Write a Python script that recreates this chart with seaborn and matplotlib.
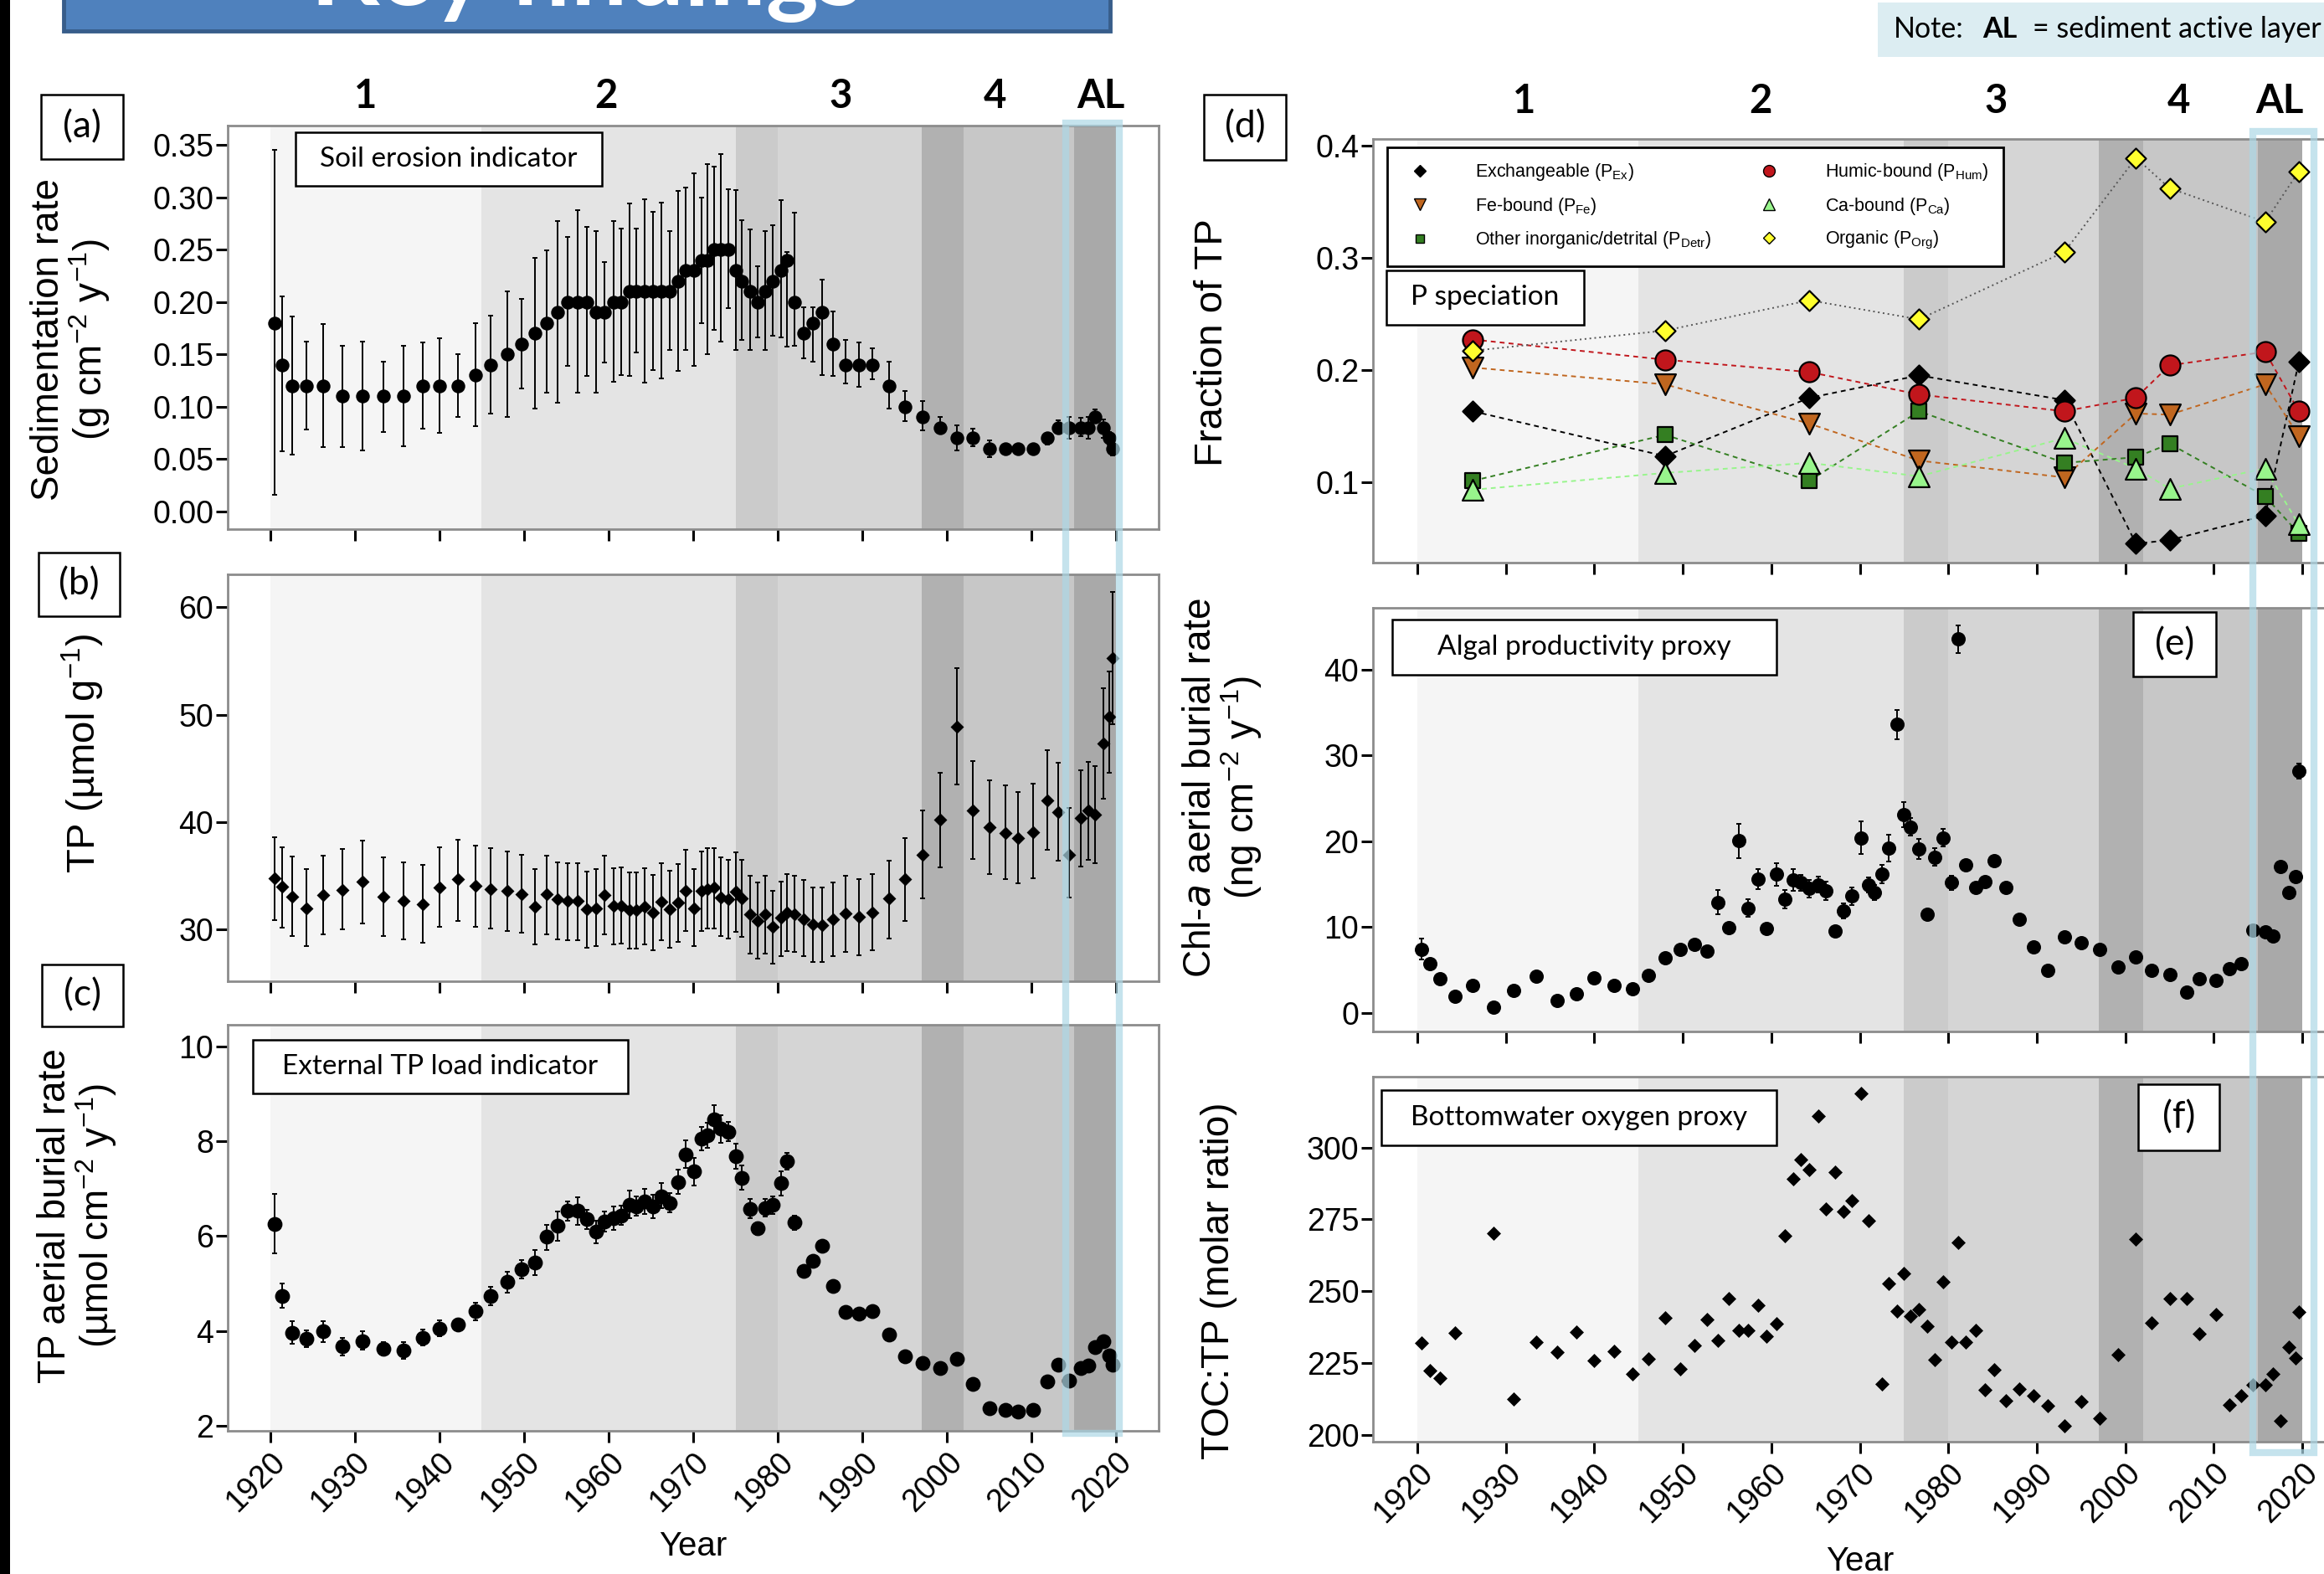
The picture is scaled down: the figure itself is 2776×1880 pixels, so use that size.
"""
Sediment core summary figure: six stacked panels (a-f) with shaded phase bands.
"""

import matplotlib
matplotlib.use("Agg")
import matplotlib.pyplot as plt
import matplotlib.transforms as mtransforms
from matplotlib.patches import Rectangle
from matplotlib.lines import Line2D
from matplotlib.ticker import FormatStrFormatter
import pandas as pd
import seaborn as sns

# ── Data ──────────────────────────────────────────────────────────────────
year = [1920.5, 1921.4, 1922.6, 1924.3, 1926.3, 1928.6, 1930.9, 1933.4, 1935.8, 1938.0,
        1940.0, 1942.2, 1944.3, 1946.1, 1948.0, 1949.7, 1951.3, 1952.7, 1954.0, 1955.2,
        1956.3, 1957.4, 1958.5, 1959.5, 1960.6, 1961.5, 1962.5, 1963.3, 1964.3, 1965.3,
        1966.2, 1967.2, 1968.2, 1969.1, 1970.1, 1971.0, 1971.7, 1972.5, 1973.3, 1974.2,
        1975.0, 1975.7, 1976.7, 1977.6, 1978.5, 1979.4, 1980.4, 1981.1, 1982.0, 1983.1,
        1984.1, 1985.2, 1986.5, 1988.0, 1989.6, 1991.2, 1993.1, 1995.0, 1997.1, 1999.2,
        2001.2, 2003.0, 2005.0, 2006.9, 2008.4, 2010.2, 2011.8, 2013.1, 2014.4, 2015.8,
        2016.7, 2017.5, 2018.5, 2019.2, 2019.6]

# (a) sedimentation rate, g cm-2 y-1
sed_rate = [0.18, 0.14, 0.12, 0.12, 0.12, 0.11, 0.11, 0.11, 0.11, 0.12,
            0.12, 0.12, 0.13, 0.14, 0.15, 0.16, 0.17, 0.18, 0.19, 0.20,
            0.20, 0.20, 0.19, 0.19, 0.20, 0.20, 0.21, 0.21, 0.21, 0.21,
            0.21, 0.21, 0.22, 0.23, 0.23, 0.24, 0.24, 0.25, 0.25, 0.25,
            0.23, 0.22, 0.21, 0.20, 0.21, 0.22, 0.23, 0.24, 0.20, 0.17,
            0.18, 0.19, 0.16, 0.14, 0.14, 0.14, 0.12, 0.10, 0.09, 0.08,
            0.07, 0.07, 0.06, 0.06, 0.06, 0.06, 0.07, 0.08, 0.08, 0.08,
            0.08, 0.09, 0.08, 0.07, 0.06]
sed_hi = [0.345, 0.205, 0.186, 0.162, 0.179, 0.158, 0.162, 0.143, 0.158, 0.161,
          0.165, 0.150, 0.180, 0.187, 0.210, 0.203, 0.242, 0.249, 0.277, 0.262,
          0.288, 0.272, 0.268, 0.238, 0.277, 0.270, 0.294, 0.270, 0.298, 0.286,
          0.295, 0.268, 0.306, 0.309, 0.323, 0.300, 0.332, 0.329, 0.341, 0.308,
          0.307, 0.278, 0.269, 0.234, 0.268, 0.273, 0.297, 0.248, 0.285, 0.195,
          0.195, 0.221, 0.191, 0.164, 0.161, 0.156, 0.143, 0.115, 0.105, 0.090,
          0.082, 0.079, 0.068, 0.064, 0.064, 0.064, 0.075, 0.087, 0.090, 0.089,
          0.090, 0.097, 0.088, 0.076, 0.066]
sed_lo = [0.016, 0.057, 0.054, 0.078, 0.061, 0.061, 0.058, 0.076, 0.062, 0.079,
          0.075, 0.090, 0.081, 0.093, 0.090, 0.117, 0.098, 0.113, 0.104, 0.139,
          0.113, 0.129, 0.113, 0.142, 0.124, 0.130, 0.129, 0.152, 0.123, 0.135,
          0.127, 0.154, 0.134, 0.154, 0.139, 0.180, 0.150, 0.173, 0.162, 0.194,
          0.154, 0.164, 0.154, 0.166, 0.154, 0.168, 0.166, 0.157, 0.158, 0.146,
          0.143, 0.130, 0.129, 0.122, 0.119, 0.126, 0.098, 0.086, 0.077, 0.074,
          0.058, 0.062, 0.052, 0.056, 0.056, 0.056, 0.064, 0.074, 0.069, 0.072,
          0.069, 0.085, 0.070, 0.064, 0.053]

# (b) TP concentration, umol g-1
tp = [34.8, 34.0, 33.1, 32.0, 33.2, 33.7, 34.5, 33.1, 32.7, 32.4,
      33.9, 34.7, 34.1, 33.8, 33.6, 33.3, 32.1, 33.3, 32.8, 32.7,
      32.7, 31.9, 32.0, 33.2, 32.2, 32.2, 31.8, 31.8, 32.1, 31.6,
      32.6, 31.9, 32.5, 33.6, 32.0, 33.6, 33.8, 33.9, 33.0, 32.8,
      33.5, 32.9, 31.4, 30.8, 31.4, 30.3, 31.1, 31.6, 31.4, 31.0,
      30.5, 30.4, 31.0, 31.5, 31.2, 31.6, 32.9, 34.7, 37.0, 40.2,
      48.9, 41.1, 39.5, 39.0, 38.5, 39.1, 42.0, 40.9, 37.0, 40.4,
      41.1, 40.7, 47.3, 49.8, 55.3]
tp_hi = [38.6, 37.7, 36.8, 35.6, 36.9, 37.5, 38.3, 36.7, 36.3, 36.0,
         37.7, 38.4, 37.8, 37.6, 37.3, 37.0, 35.6, 36.9, 36.3, 36.2,
         36.2, 35.4, 35.6, 36.9, 35.7, 35.8, 35.3, 35.3, 35.7, 35.1,
         36.2, 35.5, 36.1, 37.4, 35.6, 37.3, 37.6, 37.6, 36.7, 36.5,
         37.2, 36.5, 35.0, 34.4, 35.0, 33.6, 34.5, 35.2, 35.0, 34.6,
         33.9, 33.9, 34.4, 35.0, 34.7, 35.2, 36.4, 38.5, 41.1, 44.6,
         54.3, 45.7, 43.9, 43.4, 42.8, 43.6, 46.7, 45.5, 41.3, 44.8,
         45.6, 45.2, 52.5, 54.0, 61.4]
tp_lo = [30.9, 30.2, 29.4, 28.5, 29.6, 30.0, 30.6, 29.4, 29.1, 28.8,
         30.3, 30.8, 30.3, 30.1, 29.9, 29.7, 28.6, 29.6, 29.1, 29.0,
         29.0, 28.3, 28.5, 29.6, 28.6, 28.7, 28.2, 28.2, 28.6, 28.1,
         29.0, 28.3, 28.9, 29.9, 28.5, 29.9, 30.1, 30.1, 29.4, 29.2,
         29.8, 29.3, 27.8, 27.3, 27.8, 26.8, 27.5, 28.0, 27.9, 27.5,
         27.0, 27.0, 27.5, 27.9, 27.6, 28.1, 29.2, 30.8, 32.9, 35.8,
         43.5, 36.6, 35.2, 34.7, 34.3, 34.8, 37.4, 36.4, 33.0, 35.9,
         36.5, 36.2, 42.2, 44.6, 49.1]

# (c) TP burial rate, umol cm-2 y-1
tp_burial = [6.25, 4.74, 3.96, 3.84, 3.99, 3.68, 3.78, 3.62, 3.58, 3.86,
             4.05, 4.14, 4.41, 4.73, 5.03, 5.30, 5.44, 5.98, 6.21, 6.53,
             6.53, 6.35, 6.10, 6.30, 6.37, 6.43, 6.66, 6.62, 6.72, 6.62,
             6.84, 6.70, 7.13, 7.72, 7.36, 8.05, 8.12, 8.46, 8.26, 8.20,
             7.68, 7.23, 6.57, 6.16, 6.59, 6.66, 7.11, 7.58, 6.29, 5.26,
             5.47, 5.79, 4.95, 4.40, 4.36, 4.42, 3.93, 3.47, 3.33, 3.21,
             3.41, 2.88, 2.37, 2.34, 2.30, 2.34, 2.94, 3.29, 2.96, 3.21,
             3.27, 3.66, 3.78, 3.49, 3.29]
tpb_hi = [6.88, 5.00, 4.21, 4.01, 4.21, 3.86, 3.99, 3.76, 3.77, 4.03,
          4.23, 4.26, 4.60, 4.92, 5.24, 5.49, 5.71, 6.23, 6.52, 6.72,
          6.82, 6.56, 6.33, 6.51, 6.62, 6.64, 6.95, 6.83, 6.99, 6.87,
          7.11, 6.90, 7.40, 8.01, 7.65, 8.30, 8.39, 8.75, 8.54, 8.40,
          7.95, 7.48, 6.78, 6.29, 6.78, 6.84, 7.36, 7.75, 6.43, 5.31,
          5.52, 5.84, 5.00, 4.45, 4.41, 4.47, 3.98, 3.52, 3.38, 3.26,
          3.46, 2.93, 2.42, 2.39, 2.35, 2.39, 2.99, 3.34, 3.01, 3.26,
          3.32, 3.71, 3.83, 3.54, 3.34]
tpb_lo = [5.63, 4.48, 3.72, 3.66, 3.77, 3.49, 3.60, 3.48, 3.41, 3.70,
          3.89, 4.02, 4.23, 4.54, 4.81, 5.11, 5.18, 5.71, 5.90, 6.33,
          6.23, 6.14, 5.84, 6.10, 6.13, 6.23, 6.38, 6.42, 6.46, 6.38,
          6.58, 6.49, 6.88, 7.43, 7.07, 7.80, 7.85, 8.18, 7.97, 7.99,
          7.42, 6.98, 6.37, 6.02, 6.41, 6.47, 6.86, 7.40, 6.13, 5.21,
          5.42, 5.74, 4.90, 4.35, 4.31, 4.37, 3.88, 3.42, 3.28, 3.16,
          3.36, 2.83, 2.32, 2.29, 2.25, 2.29, 2.89, 3.24, 2.91, 3.16,
          3.22, 3.61, 3.73, 3.44, 3.24]

# (d) P speciation, fraction of TP
spec_year = [1926.3, 1948.0, 1964.3, 1976.7, 1993.1, 2001.2, 2005.0, 2015.8, 2019.6]
p_ex   = [0.163, 0.123, 0.175, 0.195, 0.173, 0.045, 0.048, 0.070, 0.207]
p_fe   = [0.202, 0.187, 0.152, 0.119, 0.104, 0.161, 0.160, 0.187, 0.141]
p_detr = [0.101, 0.142, 0.101, 0.163, 0.117, 0.122, 0.134, 0.087, 0.054]
p_hum  = [0.227, 0.209, 0.198, 0.178, 0.163, 0.175, 0.204, 0.216, 0.163]
p_ca   = [0.093, 0.108, 0.117, 0.105, 0.139, 0.112, 0.094, 0.112, 0.062]
p_org  = [0.217, 0.235, 0.262, 0.245, 0.305, 0.389, 0.362, 0.332, 0.377]

# (e) Chl-a burial rate, ng cm-2 y-1 (error = half width, 0 where not shown)
chla = [7.43, 5.69, 3.94, 1.92, 3.18, 0.70, 2.62, 4.29, 1.43, 2.20,
        4.12, 3.18, 2.83, 4.40, 6.39, 7.43, 7.96, 7.16, 12.91, 9.98,
        20.07, 12.22, 15.57, 9.88, 16.16, 13.26, 15.53, 15.18, 14.48, 14.94,
        14.24, 9.53, 11.87, 13.61, 20.42, 14.94, 14.07, 16.16, 19.23, 33.61,
        23.14, 21.68, 19.13, 11.45, 18.18, 20.42, 15.18, 43.56, 17.21, 14.59,
        15.29, 17.73, 14.66, 10.92, 7.68, 4.99, 8.83, 8.13, 7.36, 5.34,
        6.56, 4.99, 4.47, 2.44, 4.01, 3.77, 5.17, 5.76, 9.60, 9.42,
        9.00, 17.03, 14.00, 15.92, 28.20]
chla_err = [1.2, 0, 0, 0, 0, 0, 0, 0, 0, 0,
            0, 0, 0, 0, 0, 0, 0, 0, 1.4, 0,
            2.0, 1.0, 1.15, 0, 1.3, 1.05, 1.27, 0.95, 1.0, 0.95,
            1.1, 0, 0.87, 1.05, 1.9, 0.87, 0.87, 1.1, 1.57, 1.7,
            1.47, 1.03, 1.15, 0, 1.05, 1.0, 0.82, 1.57, 0, 0,
            0, 0, 0, 0, 0, 0, 0, 0, 0, 0,
            0, 0, 0, 0, 0, 0, 0, 0, 0, 0,
            0, 0, 0, 0, 0.9]

# (f) TOC:TP molar ratio (None = no measurement)
toc_tp = [232.0, 222.5, 219.7, 235.6, None, 270.1, 212.5, 232.4, 228.8, 235.9,
          225.9, 229.1, 221.4, 226.5, 240.7, 222.9, 231.2, 240.1, 233.0, 247.6,
          236.5, 236.5, 245.2, 234.5, 238.6, 269.2, 289.0, 295.8, 292.3, 310.9,
          278.6, 291.3, 277.7, 281.6, 318.7, 274.5, None, 217.9, 252.8, 243.1,
          256.3, 241.5, 243.7, 238.0, 226.1, 253.4, 232.4, 267.1, 232.4, 236.5,
          215.8, 222.7, 211.9, 216.0, 213.6, 210.1, 203.3, 211.6, 205.9, 227.9,
          268.2, 239.1, 247.6, 247.6, 235.3, 241.9, 210.4, 213.6, 217.6, 217.6,
          221.4, 205.1, 230.6, 226.7, 242.7]

# phase shading
phase_start = [1920, 1945, 1975, 1980, 1997, 2002, 2015]
phase_end   = [1945, 1975, 1980, 1997, 2002, 2015, 2020]
phase_grey  = ["#f5f5f5", "#e4e4e4", "#cbcbcb", "#d5d5d5", "#b1b1b1", "#c7c7c7", "#a9a9a9"]
phase_labels = ["1", "2", "3", "4", "AL"]
phase_label_x_left  = [1931.3, 1959.7, 1987.4, 2005.7, 2018.2]
phase_label_x_right = [1932.1, 1958.8, 1985.4, 2006.0, 2017.4]

year_ticks = [1920, 1930, 1940, 1950, 1960, 1970, 1980, 1990, 2000, 2010, 2020]

# ── Style ─────────────────────────────────────────────────────────────────
W, H = 2776, 1880
sns.set_theme(style="ticks")
plt.rcParams["font.family"] = ["Liberation Sans", "DejaVu Sans"]
plt.rcParams.update({"mathtext.default": "regular", "text.color": "black",
                     "axes.labelcolor": "black", "xtick.color": "black",
                     "ytick.color": "black"})
GILL = ["Lato", "DejaVu Sans"]

fig = plt.figure(figsize=(W / 100, H / 100), dpi=100)
fig.patch.set_facecolor("white")


def px_rect(x0, y0, x1, y1):
    """pixel box (origin top-left) -> figure fraction [l, b, w, h]"""
    return [x0 / W, 1 - y1 / H, (x1 - x0) / W, (y1 - y0) / H]


ax_a = fig.add_axes(px_rect(272, 150, 1384, 632))
ax_b = fig.add_axes(px_rect(272, 686, 1384, 1172))
ax_c = fig.add_axes(px_rect(272, 1224, 1384, 1709))
ax_d = fig.add_axes(px_rect(1640, 166, 2803, 672))
ax_e = fig.add_axes(px_rect(1640, 726, 2803, 1232))
ax_f = fig.add_axes(px_rect(1640, 1286, 2803, 1722))


def add_bands(ax):
    for lo, hi, c in zip(phase_start, phase_end, phase_grey):
        ax.axvspan(lo, hi, color=c, lw=0, zorder=0)


def style_axis(ax, ylim, yticks, yfmt, show_x):
    ax.set_xlim(1915, 2025)
    ax.set_ylim(*ylim)
    ax.set_yticks(yticks)
    ax.yaxis.set_major_formatter(FormatStrFormatter(yfmt))
    ax.set_xticks(year_ticks)
    ax.tick_params(axis="both", direction="out", length=10, width=2.2,
                   labelsize=27, colors="black")
    ax.tick_params(axis="y", pad=2)
    if show_x:
        ax.set_xticklabels([str(t) for t in year_ticks], rotation=45,
                           ha="right", rotation_mode="anchor")
        ax.tick_params(axis="x", pad=4)
    else:
        ax.tick_params(axis="x", labelbottom=False)
    for sp in ax.spines.values():
        sp.set_visible(True)
        sp.set_color("#8c8c8c")
        sp.set_linewidth(2)
    ax.set_xlabel("")
    ax.set_ylabel("")


def point_panel(ax, y, lo, hi, marker, size):
    df = pd.DataFrame({"year": year, "y": y, "lo": lo, "hi": hi}).dropna(subset=["y"])
    if lo is not None:
        ax.errorbar(df["year"], df["y"], yerr=[df["y"] - df["lo"], df["hi"] - df["y"]],
                    fmt="none", ecolor="black", elinewidth=1.4, capsize=2.5,
                    capthick=1.4, zorder=2)
    sns.scatterplot(data=df, x="year", y="y", ax=ax, marker=marker, s=size,
                    color="black", edgecolor="black", linewidth=0, zorder=3,
                    legend=False)


for ax in (ax_a, ax_b, ax_c, ax_d, ax_e, ax_f):
    add_bands(ax)

# ── (a)-(c) left column ───────────────────────────────────────────────────
point_panel(ax_a, sed_rate, sed_lo, sed_hi, "o", 140)
point_panel(ax_b, tp, tp_lo, tp_hi, "D", 66)
point_panel(ax_c, tp_burial, tpb_lo, tpb_hi, "o", 165)

style_axis(ax_a, (-0.017, 0.3685), [0, 0.05, 0.10, 0.15, 0.20, 0.25, 0.30, 0.35], "%.2f", False)
style_axis(ax_b, (25.2, 63.06), [30, 40, 50, 60], "%d", False)
style_axis(ax_c, (1.894, 10.45), [2, 4, 6, 8, 10], "%d", True)

ax_a.set_ylabel("Sedimentation rate\n(g cm$^{-2}$ y$^{-1}$)", fontsize=33, linespacing=1.0)
ax_a.yaxis.set_label_coords(-0.124, 0.47)
ax_b.set_ylabel("TP (µmol g$^{-1}$)", fontsize=34)
ax_b.yaxis.set_label_coords(-0.13, 0.56)
ax_c.set_ylabel("TP aerial burial rate\n(µmol cm$^{-2}$ y$^{-1}$)", fontsize=33, linespacing=1.0)
ax_c.yaxis.set_label_coords(-0.117, 0.53)
ax_c.set_xlabel("Year", fontsize=29)
ax_c.xaxis.set_label_coords(0.5, -0.245)

# ── (d) P speciation ──────────────────────────────────────────────────────
species = [
    ("Exchangeable (P$_{Ex}$)", p_ex, "D", "black", "black", (0, (3, 2.5)), 150),
    ("Fe-bound (P$_{Fe}$)", p_fe, "v", "#c0661f", "#c0661f", (0, (3, 2.5)), 320),
    ("Other inorganic/detrital (P$_{Detr}$)", p_detr, "s", "#347f22", "#347f22", (0, (3, 2.5)), 170),
    ("Humic-bound (P$_{Hum}$)", p_hum, "o", "#c1161c", "#c1161c", (0, (3, 2.5)), 300),
    ("Ca-bound (P$_{Ca}$)", p_ca, "^", "#98f58c", "#98f58c", (0, (3, 2.5)), 320),
    ("Organic (P$_{Org}$)", p_org, "D", "#ffff2e", "#555555", (0, (1, 2)), 150),
]
for label, vals, mk, fc, lc, ls, sz in species:
    sns.lineplot(x=spec_year, y=vals, ax=ax_d, color=lc, linestyle=ls, lw=1.4,
                 zorder=2, legend=False)
for label, vals, mk, fc, lc, ls, sz in species:
    sns.scatterplot(x=spec_year, y=vals, ax=ax_d, marker=mk, s=sz, color=fc,
                    edgecolor="black", linewidth=1.6, zorder=3, legend=False)

handles = [Line2D([], [], ls="none", marker=mk, markersize=(7 if mk in "Ds" else 10),
                  markerfacecolor=fc, markeredgecolor="black", markeredgewidth=1.0)
           for label, vals, mk, fc, lc, ls, sz in species]
leg = ax_d.legend(handles, [s[0] for s in species], ncol=2, loc="upper left",
                  bbox_to_anchor=(1657 / W, 1 - 176 / H), bbox_transform=fig.transFigure,
                  fontsize=15.5, frameon=True, fancybox=False, framealpha=1,
                  edgecolor="black", borderpad=0.8, labelspacing=0.72,
                  handlelength=2.0, handletextpad=2.1, columnspacing=2.2,
                  borderaxespad=0)
leg.get_frame().set_linewidth(2)
leg.set_zorder(6)

style_axis(ax_d, (0.028, 0.4059), [0.1, 0.2, 0.3, 0.4], "%.1f", False)
ax_d.set_ylabel("Fraction of TP", fontsize=34)
ax_d.yaxis.set_label_coords(-0.146, 0.52)

# ── (e) Chl-a and (f) TOC:TP ─────────────────────────────────────────────
chla_lo = [v - e for v, e in zip(chla, chla_err)]
chla_hi = [v + e for v, e in zip(chla, chla_err)]
point_panel(ax_e, chla, chla_lo, chla_hi, "o", 150)
point_panel(ax_f, toc_tp, None, None, "D", 75)

style_axis(ax_e, (-2.17, 47.22), [0, 10, 20, 30, 40], "%d", False)
style_axis(ax_f, (197.7, 324.6), [200, 225, 250, 275, 300], "%d", True)
ax_e.set_ylabel("Chl-$\\mathit{a}$ aerial burial rate\n(ng cm$^{-2}$ y$^{-1}$)", fontsize=33,
                linespacing=1.0)
ax_e.yaxis.set_label_coords(-0.112, 0.575)
ax_f.set_ylabel("TOC:TP (molar ratio)", fontsize=33)
ax_f.yaxis.set_label_coords(-0.139, 0.44)
ax_f.set_xlabel("Year", fontsize=29)
ax_f.xaxis.set_label_coords(0.5, -0.285)

# ── Phase labels above the columns ────────────────────────────────────────
for ax, xs, ypx in ((ax_a, phase_label_x_left, 115), (ax_d, phase_label_x_right, 121)):
    tr = mtransforms.blended_transform_factory(ax.transData, fig.transFigure)
    for x, lab in zip(xs, phase_labels):
        ax.text(x, 1 - ypx / H, lab, transform=tr, ha="center", va="center",
                fontsize=34, fontweight="bold", family=GILL)

# ── Boxed annotations ─────────────────────────────────────────────────────
def boxed(x0, y0, x1, y1, text, size):
    fig.add_artist(Rectangle((x0 / W, 1 - y1 / H), (x1 - x0) / W, (y1 - y0) / H,
                             transform=fig.transFigure, facecolor="white",
                             edgecolor="black", lw=1.8, zorder=5))
    fig.text((x0 + x1) / 2 / W, 1 - (y0 + y1) / 2 / H, text, ha="center",
             va="center", fontsize=size, family=GILL, zorder=6)


boxed(49, 113, 147, 190, "(a)", 32)
boxed(46, 660, 143, 736, "(b)", 32)
boxed(50, 1152, 147, 1226, "(c)", 32)
boxed(1438, 113, 1536, 191, "(d)", 32)
boxed(2548, 731, 2647, 808, "(e)", 32)
boxed(2554, 1295, 2651, 1374, "(f)", 32)
boxed(353, 158, 719, 222, "Soil erosion indicator", 24)
boxed(302, 1242, 750, 1306, "External TP load indicator", 24)
boxed(1656, 323, 1892, 388, "P speciation", 24)
boxed(1663, 740, 2122, 806, "Algal productivity proxy", 24)
boxed(1650, 1302, 2122, 1368, "Bottomwater oxygen proxy", 24)

# active layer outline (light blue) across each column
for x0, x1, y0, y1 in ((1273, 1337, 147, 1712), (2691, 2764, 157, 1735)):
    fig.add_artist(Rectangle((x0 / W, 1 - y1 / H), (x1 - x0) / W, (y1 - y0) / H,
                             transform=fig.transFigure, facecolor="none",
                             edgecolor="#add8e6", lw=6, alpha=0.7, zorder=7))

# ── Header pieces ─────────────────────────────────────────────────────────
fig.add_artist(Rectangle((76 / W, 1 - 37 / H), 1250 / W, 120 / H, transform=fig.transFigure,
                         facecolor="#4f81bd", edgecolor="#385d8a", lw=3.5, zorder=5))
fig.text(701 / W, 1 - 6 / H, "Key findings", ha="center", va="baseline", fontsize=86,
         fontweight="bold", color="white", family=GILL, zorder=6)

fig.add_artist(Rectangle((2243 / W, 1 - 68 / H), (W - 2243) / W, 65 / H,
                         transform=fig.transFigure, facecolor="#dcedf2", lw=0, zorder=5))
fig.text(2262 / W, 1 - 45 / H, "Note:", fontsize=24.5, family=GILL, va="baseline", zorder=6)
fig.text(2368 / W, 1 - 45 / H, "AL", fontsize=24.5, family=GILL, fontweight="bold",
         va="baseline", zorder=6)
fig.text(2428 / W, 1 - 45 / H, "= sediment active layer", fontsize=24.5, family=GILL,
         va="baseline", zorder=6)

# black strip on the left edge
fig.add_artist(Rectangle((0, 0), 12 / W, 1, transform=fig.transFigure,
                         facecolor="black", lw=0, zorder=8))

fig.savefig("out.png", dpi=100)
plt.close(fig)
